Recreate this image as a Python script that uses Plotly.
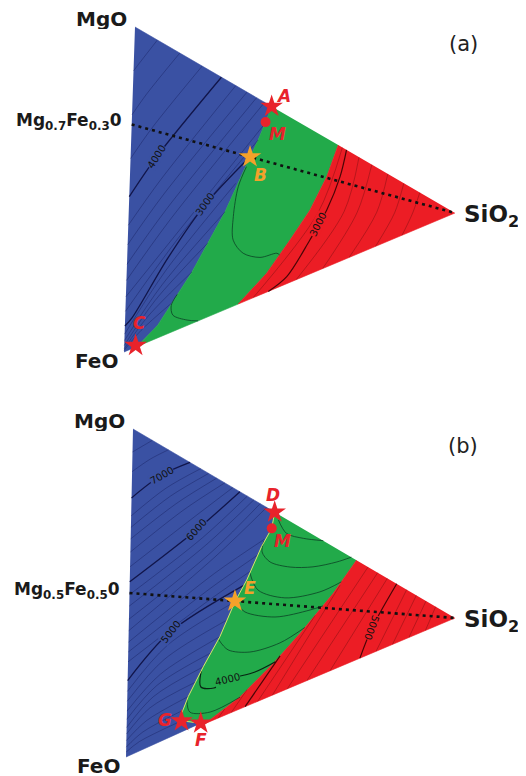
import plotly.graph_objects as go

# ---------------- DATA ----------------
# compositions as weight fractions: m = MgO, c = SiO2, FeO = 1 - m - c

# ---- panel (a) ----
A_BG_M = [0.573, 0.532, 0.486, 0.444, 0.305, 0.161, 0.040, 0.0]    # blue/green boundary
A_BG_C = [0.427, 0.410, 0.389, 0.366, 0.295, 0.200, 0.101, 0.040]
A_GR_M = [0.365, 0.281, 0.199, 0.132, 0.059, 0.0]                  # green/red boundary
A_GR_C = [0.635, 0.603, 0.555, 0.497, 0.429, 0.345]
A_BLUE_THIN_M = [[0.93, 0.885, 0.865], [0.86, 0.775, 0.73], [0.79, 0.663, 0.595],
                 [0.685, 0.49, 0.39], [0.65, 0.44, 0.33], [0.62, 0.39, 0.27],
                 [0.595, 0.35, 0.22], [0.53, 0.31, 0.17], [0.486, 0.28, 0.125],
                 [0.38, 0.2, 0.055], [0.305, 0.16, 0.035], [0.23, 0.12, 0.02],
                 [0.161, 0.08, 0.01], [0.09, 0.045, 0.005]]
A_BLUE_THIN_C = [[0.07, 0.021, 0.0], [0.14, 0.042, 0.0], [0.21, 0.063, 0.0],
                 [0.315, 0.095, 0.0], [0.35, 0.105, 0.0], [0.38, 0.115, 0.0],
                 [0.405, 0.125, 0.0], [0.41, 0.16, 0.0], [0.389, 0.15, 0.0],
                 [0.325, 0.12, 0.0], [0.295, 0.11, 0.0], [0.245, 0.09, 0.0],
                 [0.2, 0.07, 0.0], [0.14, 0.05, 0.0]]
A_BLUE_DARK_M = [[0.73, 0.567, 0.478], [0.444, 0.353, 0.236, 0.096, 0.08]]
A_BLUE_DARK_C = [[0.27, 0.08, 0.0], [0.366, 0.233, 0.125, 0.021, 0.0]]
A_GREEN_M = [[0.418, 0.366, 0.279, 0.206, 0.152, 0.117, 0.108, 0.099],
             [0.11, 0.083, 0.051, 0.017, 0.0]]
A_GREEN_C = [[0.356, 0.333, 0.321, 0.323, 0.355, 0.407, 0.458, 0.467],
             [0.157, 0.14, 0.146, 0.190, 0.224]]
A_RED_THIN_M = [[0.352, 0.18, 0.0], [0.30, 0.15, 0.0], [0.26, 0.13, 0.0],
                [0.21, 0.105, 0.0], [0.16, 0.08, 0.0], [0.11, 0.055, 0.0]]
A_RED_THIN_C = [[0.648, 0.58, 0.39], [0.70, 0.66, 0.52], [0.74, 0.70, 0.60],
                [0.79, 0.76, 0.68], [0.84, 0.815, 0.76], [0.89, 0.87, 0.84]]
A_RED_DARK_M = [[0.339, 0.264, 0.178, 0.106, 0.022, 0.0]]
A_RED_DARK_C = [[0.661, 0.644, 0.607, 0.558, 0.491, 0.436]]
A_JOIN_M, A_JOIN_C = [0.7, 0.0], [0.0, 1.0]           # Mg0.7Fe0.3O - SiO2 join
A_RED_STARS = ["A", "C"]
A_RED_STAR_M, A_RED_STAR_C = [0.573, 0.005], [0.427, 0.035]
A_ORANGE_STARS = ["B"]
A_ORANGE_STAR_M, A_ORANGE_STAR_C = [0.444], [0.366]
A_DOT_M, A_DOT_C = [0.532], [0.410]
A_LEVELS = ["4000", "3000", "3000"]
A_LEVEL_M, A_LEVEL_C = [0.567, 0.353, 0.142], [0.08, 0.233, 0.582]

# ---- panel (b) ----
B_BG_M = [0.56, 0.514, 0.471, 0.388, 0.336, 0.248, 0.177, 0.105, 0.062, 0.039]
B_BG_C = [0.44, 0.432, 0.402, 0.359, 0.324, 0.280, 0.231, 0.187, 0.168, 0.168]
B_GF_M, B_GF_C = [0.039, 0.007], [0.168, 0.227]        # G - F border
B_GR_M = [0.306, 0.234, 0.154, 0.097, 0.037, 0.0]
B_GR_C = [0.694, 0.625, 0.526, 0.446, 0.346, 0.240]
B_BLUE_THIN_M = [[0.94, 0.935, 0.93], [0.89, 0.885, 0.87], [0.79, 0.775, 0.735],
                 [0.765, 0.745, 0.70], [0.74, 0.715, 0.665], [0.715, 0.685, 0.625],
                 [0.69, 0.645, 0.58], [0.645, 0.575, 0.495], [0.625, 0.55, 0.46],
                 [0.605, 0.52, 0.42], [0.585, 0.50, 0.385], [0.49, 0.45, 0.35],
                 [0.45, 0.41, 0.32], [0.41, 0.37, 0.29], [0.336, 0.29, 0.20],
                 [0.29, 0.25, 0.17], [0.248, 0.21, 0.14], [0.21, 0.18, 0.115],
                 [0.177, 0.15, 0.09], [0.14, 0.12, 0.07], [0.105, 0.085, 0.05],
                 [0.07, 0.055, 0.03], [0.039, 0.03, 0.015]]
B_BLUE_THIN_C = [[0.06, 0.03, 0.0], [0.11, 0.055, 0.0], [0.21, 0.105, 0.0],
                 [0.235, 0.12, 0.0], [0.26, 0.14, 0.0], [0.285, 0.16, 0.0],
                 [0.31, 0.18, 0.0], [0.355, 0.22, 0.0], [0.375, 0.235, 0.0],
                 [0.395, 0.25, 0.0], [0.415, 0.26, 0.0], [0.41, 0.26, 0.0],
                 [0.39, 0.25, 0.0], [0.37, 0.23, 0.0], [0.324, 0.12, 0.0],
                 [0.30, 0.11, 0.0], [0.28, 0.10, 0.0], [0.255, 0.09, 0.0],
                 [0.231, 0.08, 0.0], [0.21, 0.07, 0.0], [0.187, 0.06, 0.0],
                 [0.175, 0.05, 0.0], [0.168, 0.04, 0.0]]
B_BLUE_DARK_M = [[0.823, 0.821, 0.79], [0.668, 0.607, 0.534], [0.375, 0.327, 0.233]]
B_BLUE_DARK_C = [[0.177, 0.091, 0.0], [0.332, 0.202, 0.0], [0.35, 0.127, 0.0]]
B_GREEN_M = [[0.531, 0.479, 0.442, 0.409],
             [0.485, 0.454, 0.413, 0.371, 0.342, 0.326, 0.322],
             [0.405, 0.342, 0.283, 0.256, 0.259],
             [0.336, 0.292, 0.237, 0.213, 0.209],
             [0.242, 0.197, 0.162, 0.151, 0.166],
             [0.167, 0.118, 0.098, 0.106, 0.094, 0.099],
             [0.097, 0.055, 0.029, 0.036]]
B_GREEN_C = [[0.452, 0.478, 0.530, 0.591],
             [0.409, 0.404, 0.429, 0.491, 0.561, 0.634, 0.678],
             [0.368, 0.394, 0.477, 0.584, 0.649],
             [0.324, 0.355, 0.448, 0.555, 0.594],
             [0.276, 0.306, 0.373, 0.465, 0.540],
             [0.225, 0.225, 0.265, 0.305, 0.390, 0.452],
             [0.183, 0.193, 0.255, 0.346]]
B_RED_THIN_M = [[0.02, 0.0], [0.05, 0.0], [0.19, 0.0], [0.25, 0.0], [0.27, 0.0],
                [0.24, 0.0], [0.21, 0.0], [0.15, 0.0], [0.12, 0.0], [0.09, 0.0], [0.06, 0.0]]
B_RED_THIN_C = [[0.30, 0.28], [0.367, 0.32], [0.571, 0.40], [0.645, 0.445], [0.73, 0.49],
                [0.76, 0.55], [0.79, 0.62], [0.85, 0.76], [0.88, 0.81], [0.91, 0.86], [0.94, 0.91]]
B_RED_DARK_M = [[0.111, 0.0], [0.181, 0.077, 0.0]]
B_RED_DARK_C = [[0.466, 0.362], [0.819, 0.746, 0.711]]
B_JOIN_M, B_JOIN_C = [0.5, 0.0], [0.0, 1.0]           # Mg0.5Fe0.5O - SiO2 join
B_RED_STARS = ["D", "G", "F"]
B_RED_STAR_M, B_RED_STAR_C = [0.56, 0.039, 0.007], [0.44, 0.168, 0.227]
B_ORANGE_STARS = ["E"]
B_ORANGE_STAR_M, B_ORANGE_STAR_C = [0.338], [0.324]
B_DOT_M, B_DOT_C = [0.514], [0.432]
B_LEVELS = ["7000", "6000", "5000", "4000", "5000"]
B_LEVEL_M, B_LEVEL_C = [0.821, 0.607, 0.327, 0.106, 0.077], [0.091, 0.202, 0.127, 0.305, 0.746]

# ---------------- GEOMETRY / STYLE ----------------
# page offset of the plot (browser body margin) is compensated by the axis ranges
PAGE_OFFSET = 8
VERTS = {
    "a": {"MgO": (135, 27), "FeO": (124, 352), "SiO2": (455, 213)},
    "b": {"MgO": (133, 429), "FeO": (126, 757), "SiO2": (455, 618)},
}
BLUE, GREEN, RED = "#3a51a3", "#22aa4a", "#ec1d25"
STAR_RED, STAR_ORANGE = "#e8232b", "#f4a12a"
FONT = "DejaVu Sans"


def xy(panel, m, c):
    V = VERTS[panel]
    xs, ys = [], []
    for mi, ci in zip(m, c):
        f = 1.0 - mi - ci
        xs.append(mi * V["MgO"][0] + f * V["FeO"][0] + ci * V["SiO2"][0])
        ys.append(mi * V["MgO"][1] + f * V["FeO"][1] + ci * V["SiO2"][1])
    return xs, ys


fig = go.Figure()


def poly(panel, m, c, color):
    x, y = xy(panel, m, c)
    fig.add_trace(go.Scatter(x=x, y=y, mode="lines", fill="toself", fillcolor=color,
                             line=dict(color=color, width=0.6), hoverinfo="skip"))


def lines(panel, M, C, color, width, shape="spline"):
    for m, c in zip(M, C):
        x, y = xy(panel, m, c)
        fig.add_trace(go.Scatter(x=x, y=y, mode="lines",
                                 line=dict(color=color, width=width, shape=shape, smoothing=0.9),
                                 hoverinfo="skip"))


def draw_panel(p, BG_M, BG_C, GR_M, GR_C, extra_green_m, extra_green_c):
    poly(p, [1.0] + BG_M + extra_green_m + [0.0], [0.0] + BG_C + extra_green_c + [0.0], BLUE)
    poly(p, GR_M + extra_green_m[::-1] + BG_M[::-1], GR_C + extra_green_c[::-1] + BG_C[::-1], GREEN)
    poly(p, GR_M + [0.0], GR_C + [1.0], RED)


# panel (a)
draw_panel("a", A_BG_M, A_BG_C, A_GR_M, A_GR_C, [], [])
lines("a", A_BLUE_THIN_M, A_BLUE_THIN_C, "rgba(20,28,90,0.5)", 0.8)
lines("a", A_BLUE_DARK_M, A_BLUE_DARK_C, "rgba(15,18,70,0.95)", 1.3)
lines("a", A_GREEN_M, A_GREEN_C, "rgba(10,60,35,0.85)", 0.9)
lines("a", A_RED_THIN_M, A_RED_THIN_C, "rgba(90,10,10,0.45)", 0.8)
lines("a", A_RED_DARK_M, A_RED_DARK_C, "rgba(45,0,0,0.85)", 1.2)

# panel (b)
draw_panel("b", B_BG_M, B_BG_C, B_GR_M, B_GR_C, B_GF_M[1:], B_GF_C[1:])
lines("b", B_BLUE_THIN_M, B_BLUE_THIN_C, "rgba(20,28,90,0.5)", 0.8)
lines("b", B_BLUE_DARK_M, B_BLUE_DARK_C, "rgba(15,18,70,0.95)", 1.3)
lines("b", B_GREEN_M[:5] + B_GREEN_M[6:], B_GREEN_C[:5] + B_GREEN_C[6:], "rgba(10,60,35,0.85)", 0.9)
lines("b", [B_GREEN_M[5]], [B_GREEN_C[5]], "rgba(5,30,15,0.95)", 1.2)
lines("b", B_RED_THIN_M, B_RED_THIN_C, "rgba(90,10,10,0.45)", 0.8)
lines("b", B_RED_DARK_M, B_RED_DARK_C, "rgba(45,0,0,0.85)", 1.2)
lines("b", [B_BG_M + B_GF_M[1:]], [B_BG_C + B_GF_C[1:]], "rgba(225,228,110,0.95)", 1.0, "linear")

# joins (dotted)
for p, m, c in (("a", A_JOIN_M, A_JOIN_C), ("b", B_JOIN_M, B_JOIN_C)):
    x, y = xy(p, m, c)
    fig.add_trace(go.Scatter(x=x, y=y, mode="lines",
                             line=dict(color="#111111", width=2.6, dash="3px,4px"),
                             hoverinfo="skip"))

# markers
for p, sm, sc, om, oc, dm, dc in (("a", A_RED_STAR_M, A_RED_STAR_C, A_ORANGE_STAR_M, A_ORANGE_STAR_C, A_DOT_M, A_DOT_C),
                                  ("b", B_RED_STAR_M, B_RED_STAR_C, B_ORANGE_STAR_M, B_ORANGE_STAR_C, B_DOT_M, B_DOT_C)):
    x, y = xy(p, dm, dc)
    fig.add_trace(go.Scatter(x=x, y=y, mode="markers",
                             marker=dict(symbol="circle", size=10, color=STAR_RED), hoverinfo="skip"))
    x, y = xy(p, sm, sc)
    fig.add_trace(go.Scatter(x=x, y=y, mode="markers",
                             marker=dict(symbol="star", size=17, color=STAR_RED), hoverinfo="skip"))
    x, y = xy(p, om, oc)
    fig.add_trace(go.Scatter(x=x, y=y, mode="markers",
                             marker=dict(symbol="star", size=17, color=STAR_ORANGE), hoverinfo="skip"))

ann = []


def point_label(p, m, c, text, color, dx, dy):
    x, y = xy(p, [m], [c])
    ann.append(dict(x=x[0], y=y[0], text="<b><i>%s</i></b>" % text, showarrow=False,
                    xshift=dx, yshift=dy, font=dict(family=FONT, size=17, color=color)))


LETTER_SHIFTS = {"A": (12, 10), "C": (4, 23), "B": (10, -18), "D": (-2, 17), "G": (-17, 1),
                 "F": (0, -17), "E": (15, 13)}
for p, names, M, C, col in (("a", A_RED_STARS, A_RED_STAR_M, A_RED_STAR_C, STAR_RED),
                            ("a", A_ORANGE_STARS, A_ORANGE_STAR_M, A_ORANGE_STAR_C, STAR_ORANGE),
                            ("b", B_RED_STARS, B_RED_STAR_M, B_RED_STAR_C, STAR_RED),
                            ("b", B_ORANGE_STARS, B_ORANGE_STAR_M, B_ORANGE_STAR_C, STAR_ORANGE)):
    for n, m, c in zip(names, M, C):
        point_label(p, m, c, n, col, *LETTER_SHIFTS[n])
point_label("a", A_DOT_M[0], A_DOT_C[0], "M", STAR_RED, 12, -12)
point_label("b", B_DOT_M[0], B_DOT_C[0], "M", STAR_RED, 11, -13)

# contour level labels
LEVEL_ANGLES_A = [-58, -55, -63]
LEVEL_BG_A = [BLUE, BLUE, RED]
LEVEL_ANGLES_B = [-30, -48, -52, -14, 110]
LEVEL_BG_B = [BLUE, BLUE, BLUE, GREEN, RED]
for p, T, M, C, ANG, BGS in (("a", A_LEVELS, A_LEVEL_M, A_LEVEL_C, LEVEL_ANGLES_A, LEVEL_BG_A),
                             ("b", B_LEVELS, B_LEVEL_M, B_LEVEL_C, LEVEL_ANGLES_B, LEVEL_BG_B)):
    for t, m, c, a, bg in zip(T, M, C, ANG, BGS):
        x, y = xy(p, [m], [c])
        ann.append(dict(x=x[0], y=y[0], text=t, showarrow=False, textangle=a, bgcolor=bg,
                        borderpad=0, font=dict(family=FONT, size=10, color="#111111")))

# vertex and panel labels
TXT = "#1a1a1a"
for p, join_text, join_m in (("a", "Mg<sub>0.7</sub>Fe<sub>0.3</sub>0", 0.7),
                             ("b", "Mg<sub>0.5</sub>Fe<sub>0.5</sub>0", 0.5)):
    V = VERTS[p]
    ann.append(dict(x=V["MgO"][0], y=V["MgO"][1], text="<b>MgO</b>", showarrow=False,
                    xanchor="right", yanchor="middle", xshift=-6, yshift=8, height=20,
                    font=dict(family=FONT, size=20, color=TXT)))
    ann.append(dict(x=V["FeO"][0], y=V["FeO"][1], text="<b>FeO</b>", showarrow=False,
                    xanchor="right", yanchor="middle", xshift=-4, yshift=-9, height=18,
                    font=dict(family=FONT, size=20, color=TXT)))
    ann.append(dict(x=V["SiO2"][0], y=V["SiO2"][1], text="<b>SiO<sub>2</sub></b>", showarrow=False,
                    xanchor="left", yanchor="middle", xshift=7, yshift=-3,
                    font=dict(family=FONT, size=23, color=TXT)))
    x, y = xy(p, [join_m], [0.0])
    ann.append(dict(x=x[0], y=y[0], text="<b>%s</b>" % join_text, showarrow=False,
                    xanchor="right", yanchor="middle", xshift=-8, yshift=3,
                    font=dict(family=FONT, size=17, color=TXT)))

ann.append(dict(x=463, y=44, text="(a)", showarrow=False, font=dict(family=FONT, size=21, color="#222222")))
ann.append(dict(x=463, y=446, text="(b)", showarrow=False, font=dict(family=FONT, size=21, color="#222222")))

fig.update_layout(
    width=526 - PAGE_OFFSET, height=776 - PAGE_OFFSET, margin=dict(l=0, r=0, t=0, b=0),
    paper_bgcolor="white", plot_bgcolor="white", showlegend=False,
    xaxis=dict(range=[PAGE_OFFSET, 526], visible=False, fixedrange=True),
    yaxis=dict(range=[776, PAGE_OFFSET], visible=False, fixedrange=True),
    annotations=ann,
)

fig.write_html("out.html")
